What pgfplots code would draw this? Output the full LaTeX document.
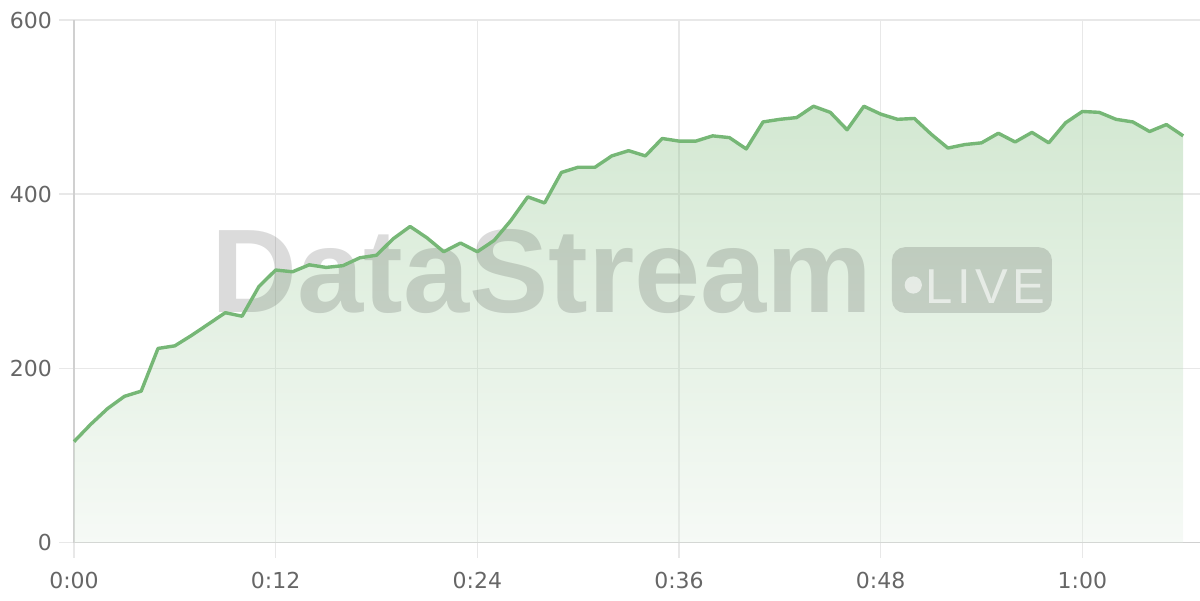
\documentclass[border=0pt]{standalone}
\usepackage{fontspec}
\setmainfont{DejaVu Sans}
\newfontfamily\wmfont{Liberation Sans}
\newfontfamily\livefont{Liberation Sans}[LetterSpace=9]
\usepackage{pgfplots}
\pgfplotsset{compat=1.18}
\definecolor{linegreen}{HTML}{76B776}
\definecolor{filltop}{RGB}{129,189,126}
\definecolor{fillbot}{RGB}{229,240,229}
\definecolor{gridgray}{HTML}{E8E8E8}
\definecolor{axisgray}{HTML}{D0D0D0}
\definecolor{labelgray}{HTML}{666666}

\pgfplotstableread{
t v
0 116
1 136
2 154
3 168
4 174
5 223
6 226
7 238
8 251
9 264
10 260
11 294
12 313
13 311
14 319
15 316
16 318
17 327
18 330
19 349
20 363
21 350
22 334
23 344
24 334
25 347
26 370
27 397
28 390
29 425
30 431
31 431
32 444
33 450
34 444
35 464
36 461
37 461
38 467
39 465
40 452
41 483
42 486
43 488
44 501
45 494
46 474
47 501
48 492
49 486
50 487
51 469
52 453
53 457
54 459
55 470
56 460
57 471
58 459
59 482
60 495
61 494
62 486
63 483
64 472
65 480
66 467
}\rate

\begin{document}
\begin{tikzpicture}
\begin{axis}[
  name=ax,
  scale only axis,
  width=563pt, height=261.35pt,
  xmin=0, xmax=67, ymin=0, ymax=600,
  xtick={0,12,24,36,48,60},
  xticklabels={0:00,0:12,0:24,0:36,0:48,1:00},
  ytick={0,200,400,600},
  grid=major,
  major grid style={draw=gridgray, line width=0.75pt},
  tick align=outside,
  major tick length=7.5pt,
  tick style={draw=gridgray, line width=0.75pt},
  axis x line*=bottom, axis y line*=left,
  axis line style={draw=axisgray, line width=0.75pt},
  ticklabel style={font=\fontsize{11}{13}\selectfont, text=labelgray},
  xticklabel style={yshift=-3.5pt},
  /pgf/number format/assume math mode=true,
  clip=false,
]
\addplot[draw=none, shade, top color=filltop, bottom color=fillbot, fill opacity=0.35]
  table[x=t, y=v] {\rate} \closedcycle;

% watermark
\node[anchor=base west, inner sep=0pt, text=black, text opacity=0.14,
      font=\wmfont\bfseries\fontsize{59.5}{59.5}\selectfont]
  at (axis cs:8.15,263.7) {DataStream};
\fill[black, fill opacity=0.14, rounded corners=6.5pt]
  (axis cs:48.67,263.7) rectangle (axis cs:58.19,339.2);
\fill[white, fill opacity=0.6] (axis cs:49.94,295.8) circle[radius=4.3pt];
\node[anchor=base west, inner sep=0pt, text=white, text opacity=0.6,
      font=\livefont\fontsize{24.5}{24.5}\selectfont]
  at (axis cs:50.64,275.1) {LIVE};

\addplot[linegreen, line width=1.7pt, line join=round, mark=none]
  table[x=t, y=v] {\rate};
\end{axis}
\pgfresetboundingbox
\path[use as bounding box] ([xshift=-37pt,yshift=-28.65pt]ax.south west) rectangle ([yshift=10pt]ax.north east);
\end{tikzpicture}
\end{document}
